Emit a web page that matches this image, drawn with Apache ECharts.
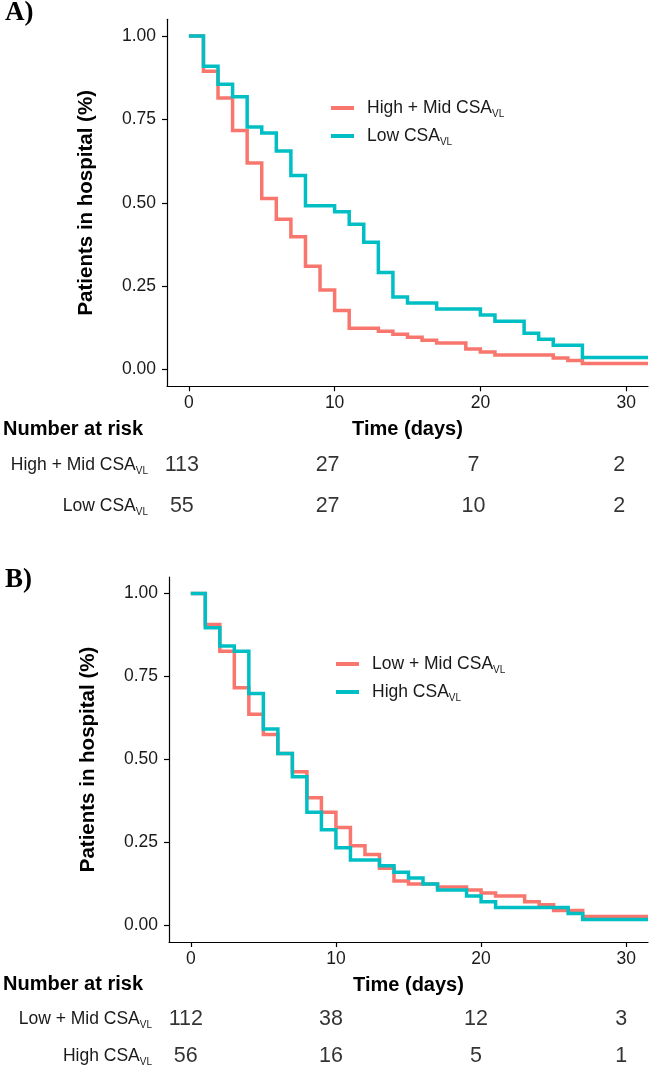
<!DOCTYPE html>
<html>
<head>
<meta charset="utf-8">
<script src="https://cdn.jsdelivr.net/npm/echarts@6.0.0/dist/echarts.min.js"></script>
<style>
  html, body { margin: 0; padding: 0; background: #ffffff; }
  #chart { width: 652px; height: 1075px; }
</style>
</head>
<body>
<div id="chart"></div>
<script>
// ---------- data ----------
const xTicks = [0, 10, 20, 30];
const yTicks = [0, 0.25, 0.5, 0.75, 1];

// Panel A
const aHighMidTime = [0, 1, 2, 3, 4, 5, 6, 7, 8, 9, 10, 11, 13, 14, 15, 16, 17, 19, 20, 21, 25, 26, 27, 31.5];
const aHighMidSurv = [1.0, 0.894, 0.814, 0.717, 0.619, 0.513, 0.451, 0.398, 0.310, 0.239, 0.177, 0.124, 0.115, 0.106, 0.097, 0.088, 0.080, 0.062, 0.053, 0.044, 0.035, 0.027, 0.018, 0.018];
const aLowTime = [0, 1, 2, 3, 4, 5, 6, 7, 8, 10, 11, 12, 13, 14, 15, 17, 20, 21, 23, 24, 25, 27, 31.5];
const aLowSurv = [1.0, 0.909, 0.855, 0.818, 0.727, 0.709, 0.655, 0.582, 0.491, 0.473, 0.436, 0.382, 0.291, 0.218, 0.200, 0.182, 0.164, 0.145, 0.109, 0.091, 0.073, 0.036, 0.036];

// Panel B
const bLowMidTime = [0, 1, 2, 3, 4, 5, 6, 7, 8, 9, 10, 11, 12, 13, 14, 15, 17, 19, 20, 21, 23, 24, 25, 27, 31.5];
const bLowMidSurv = [1.0, 0.907, 0.826, 0.716, 0.636, 0.575, 0.518, 0.463, 0.385, 0.341, 0.295, 0.240, 0.214, 0.172, 0.134, 0.125, 0.116, 0.107, 0.098, 0.089, 0.071, 0.062, 0.045, 0.027, 0.027];
const bHighTime = [0, 1, 2, 3, 4, 5, 6, 7, 8, 9, 10, 11, 13, 14, 15, 16, 17, 19, 20, 21, 26, 27, 31.5];
const bHighSurv = [1.0, 0.897, 0.842, 0.826, 0.699, 0.592, 0.518, 0.448, 0.341, 0.288, 0.234, 0.197, 0.180, 0.160, 0.143, 0.125, 0.107, 0.089, 0.071, 0.054, 0.036, 0.018, 0.018];

// Number at risk
const riskTimes = [0, 10, 20, 30];
const riskAHighMid = [113, 27, 7, 2];
const riskALow = [55, 27, 10, 2];
const riskBLowMid = [112, 38, 12, 3];
const riskBHigh = [56, 16, 5, 1];

const namesA = ['High + Mid CSA', 'Low CSA'];
const namesB = ['Low + Mid CSA', 'High CSA'];

// ---------- styling ----------
const FONT = "'Liberation Sans', Arial, Helvetica, sans-serif";
const SERIF = "'Liberation Serif', 'Times New Roman', serif";
const RED = '#F8766D';
const TEAL = '#00BFC4';
const INK = '#1a1a1a';

function zip(xs, ys) { return xs.map((x, i) => [x, ys[i]]); }
function subLabel(name) { return '{m|' + name + '}{s|VL}'; }
const richLabel = {
  g: { width: 8 },
  m: { fontSize: 17.5, fontFamily: FONT, color: INK, lineHeight: 22 },
  s: { fontSize: 10, fontFamily: FONT, color: INK, lineHeight: 12, verticalAlign: 'bottom' }
};

function mainX(gridIndex) {
  return {
    type: 'value', gridIndex: gridIndex, min: -1.5, max: 31.5,
    splitLine: { show: false },
    axisLine: { show: true, onZero: false, lineStyle: { color: '#000', width: 1.2 } },
    axisTick: { show: true, length: 5, customValues: xTicks, lineStyle: { color: '#000', width: 1.2 } },
    axisLabel: { customValues: xTicks, fontSize: 17.5, fontFamily: FONT, color: INK, margin: 8 },
    name: 'Time (days)', nameLocation: 'middle', nameGap: 33,
    nameTextStyle: { fontSize: 20, fontWeight: 'bold', fontFamily: FONT, color: '#000' }
  };
}
function mainY(gridIndex) {
  return {
    type: 'value', gridIndex: gridIndex, min: -0.05, max: 1.05,
    splitLine: { show: false },
    axisLine: { show: true, onZero: false, lineStyle: { color: '#000', width: 1.2 } },
    axisTick: { show: true, length: 5, customValues: yTicks, lineStyle: { color: '#000', width: 1.2 } },
    axisLabel: { customValues: yTicks, fontSize: 17.5, fontFamily: FONT, color: INK, margin: 11,
      formatter: v => Number(v).toFixed(2) },
    name: 'Patients in hospital (%)', nameLocation: 'middle', nameGap: 70, nameRotate: 90,
    nameTextStyle: { fontSize: 20.5, fontWeight: 'bold', fontFamily: FONT, color: '#000' }
  };
}
function riskX(gridIndex) {
  return { type: 'value', gridIndex: gridIndex, min: -1.5, max: 31.5, show: false };
}
function riskY(gridIndex, names) {
  return {
    type: 'category', gridIndex: gridIndex, inverse: true, data: names,
    axisLine: { show: false }, axisTick: { show: false }, splitLine: { show: false },
    axisLabel: { margin: 12, formatter: v => subLabel(v), rich: richLabel }
  };
}
function kmLine(name, xs, ys, color, axisIndex) {
  return {
    name: name, type: 'line', step: 'end', data: zip(xs, ys),
    xAxisIndex: axisIndex, yAxisIndex: axisIndex,
    showSymbol: false, symbol: 'none', color: color,
    lineStyle: { color: color, width: 3.5, cap: 'butt', join: 'miter' },
    itemStyle: { color: color }, z: 3
  };
}
function riskSeries(rowName, counts, axisIndex) {
  return {
    type: 'scatter', xAxisIndex: axisIndex, yAxisIndex: axisIndex,
    data: riskTimes.map((t, i) => [t, rowName, counts[i]]),
    symbolSize: 1, itemStyle: { color: 'rgba(0,0,0,0)' },
    label: { show: true, position: 'inside', formatter: p => String(p.value[2]),
      fontSize: 21.5, fontFamily: FONT, color: '#000' },
    silent: true
  };
}
function legend(names, left, top) {
  return {
    data: names, left: left, top: top, orient: 'vertical',
    icon: 'rect', itemWidth: 23, itemHeight: 4, itemGap: 8, padding: 0,
    selectedMode: false,
    formatter: n => '{g|}' + subLabel(n),
    textStyle: { rich: richLabel }
  };
}

const option = {
  animation: false,
  backgroundColor: '#ffffff',
  title: [
    { text: 'A)', left: 5, top: 0, padding: 0,
      textStyle: { fontFamily: SERIF, fontWeight: 'bold', fontSize: 27, color: '#000' } },
    { text: 'B)', left: 5, top: 567, padding: 0,
      textStyle: { fontFamily: SERIF, fontWeight: 'bold', fontSize: 27, color: '#000' } },
    { text: 'Number at risk', left: 3, top: 419, padding: 0,
      textStyle: { fontFamily: FONT, fontWeight: 'bold', fontSize: 20, lineHeight: 20, color: '#000' } },
    { text: 'Number at risk', left: 3, top: 974, padding: 0,
      textStyle: { fontFamily: FONT, fontWeight: 'bold', fontSize: 20, lineHeight: 20, color: '#000' } }
  ],
  grid: [
    { left: 167, top: 19.3, width: 481, height: 367 },
    { left: 160, top: 445, width: 481, height: 82 },
    { left: 169, top: 577, width: 479, height: 365 },
    { left: 164, top: 1001, width: 479, height: 82 }
  ],
  xAxis: [mainX(0), riskX(1), mainX(2), riskX(3)],
  yAxis: [mainY(0), riskY(1, namesA), mainY(2), riskY(3, namesB)],
  legend: [legend(namesA, 331, 99), legend(namesB, 336, 655)],
  series: [
    kmLine(namesA[0], aHighMidTime, aHighMidSurv, RED, 0),
    kmLine(namesA[1], aLowTime, aLowSurv, TEAL, 0),
    riskSeries(namesA[0], riskAHighMid, 1),
    riskSeries(namesA[1], riskALow, 1),
    kmLine(namesB[0], bLowMidTime, bLowMidSurv, RED, 2),
    kmLine(namesB[1], bHighTime, bHighSurv, TEAL, 2),
    riskSeries(namesB[0], riskBLowMid, 3),
    riskSeries(namesB[1], riskBHigh, 3)
  ]
};

const chart = echarts.init(document.getElementById('chart'), null, { renderer: 'canvas' });
chart.setOption(option);
</script>
</body>
</html>
